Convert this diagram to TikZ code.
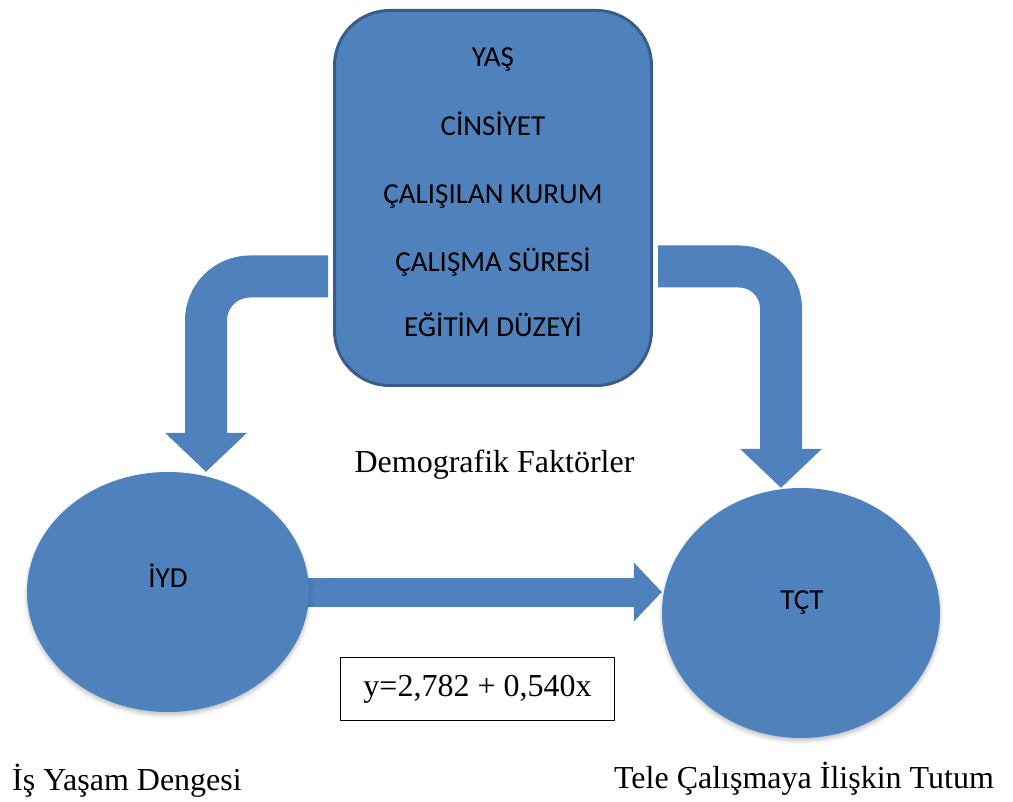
\documentclass[tikz,border=0pt]{standalone}
\usepackage{fontspec}
\setmainfont{Liberation Serif}
\newfontfamily\calibrifont{Carlito}
\usetikzlibrary{arrows.meta,shapes.geometric,shadows.blur}
\definecolor{ofblue}{HTML}{4F81BD}
\definecolor{ofborder}{HTML}{385D8A}
\pgfdeclarelayer{background}
\pgfsetlayers{background,main}
\begin{document}
\begin{tikzpicture}[x=1pt,y=-1pt,
  bentarrow/.style={draw=ofblue, line width=42pt, line cap=butt,
    -{Triangle[width=82pt,length=39pt,line width=0pt]}},
  flatarrow/.style={draw=ofblue, line width=29pt, line cap=butt,
    -{Triangle[width=59pt,length=28pt,line width=0pt]}},
  oval/.style={ellipse, fill=ofblue, inner sep=0pt,
    blur shadow={shadow xshift=0pt, shadow yshift=-3pt, shadow blur radius=4pt, shadow opacity=25}},
  factorbox/.style={rectangle, rounded corners=55pt, fill=ofblue, draw=ofborder,
    line width=3pt, inner sep=0pt},
  boxtext/.style={anchor=base, inner sep=0pt, font=\calibrifont\fontsize{29}{35}\selectfont},
  captext/.style={anchor=base, inner sep=0pt, font=\fontsize{32}{38}\selectfont},
  eqbox/.style={draw=black, line width=1.5pt, minimum width=274pt, minimum height=63pt,
    inner sep=0pt, font=\fontsize{32}{38}\selectfont}
]
\useasboundingbox (0,0) rectangle (1013,802);

% shapes
\node[factorbox, minimum width=317pt, minimum height=375pt] (box) at (493,198) {};
\node[oval, minimum width=282pt, minimum height=240pt] (iyd) at (168,592) {};
\node[oval, minimum width=278pt, minimum height=250pt] (tct) at (801,613) {};

% connectors, under the shapes
\begin{pgfonlayer}{background}
\draw[bentarrow, rounded corners=44pt]
  ([xshift=-5pt]box.west |- 0,276.5) -- (206,276.5) -- (206,0 |- iyd.north);
\draw[bentarrow, rounded corners=42pt]
  ([xshift=5pt]box.east |- 0,266.5) -- (781,266.5) -- (781,0 |- tct.north);
\draw[flatarrow] ([xshift=-3pt]iyd.east) -- (iyd.east -| tct.west);
\end{pgfonlayer}

% box texts
\node[boxtext] (f1) at (493,67) {YAŞ};
\node[boxtext] (f2) at (493,136) {CİNSİYET};
\node[boxtext] (f3) at (493,204) {ÇALIŞILAN KURUM};
\node[boxtext] (f4) at (493,272) {ÇALIŞMA SÜRESİ};
\node[boxtext] (f5) at (493,337) {EĞİTİM DÜZEYİ};

% oval labels
\node[boxtext] (iydl) at (168,587) {İYD};
\node[boxtext] (tctl) at (802,609) {TÇT};

% captions
\node[captext] (demo) at (494.5,472) {Demografik Faktörler};
\node[captext, anchor=base west] (isl) at (12,790) {İş Yaşam Dengesi};
\node[captext, anchor=base east] (tcl) at (994,788) {Tele Çalışmaya İlişkin Tutum};

% equation
\node[eqbox] (eq) at (477.5,689) {y=2,782 + 0,540x};
\end{tikzpicture}
\end{document}
